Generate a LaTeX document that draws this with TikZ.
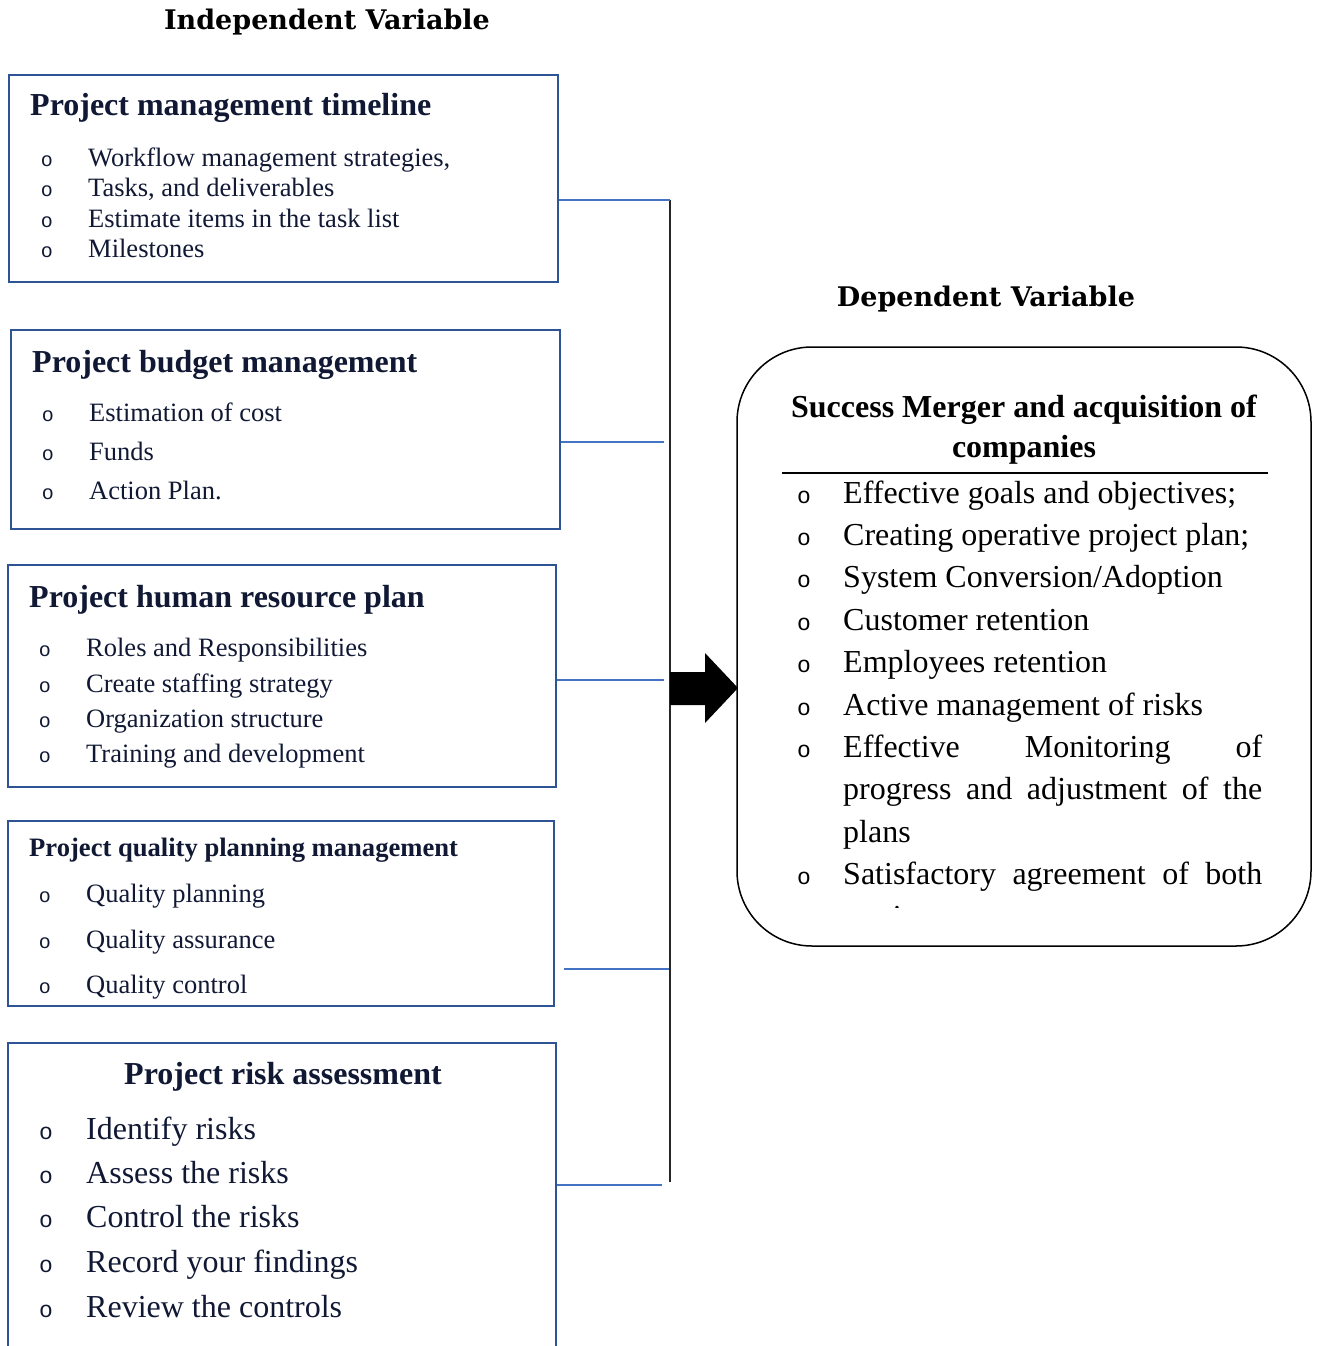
\documentclass[tikz,border=0pt]{standalone}
\usepackage{fontspec}
\setmainfont{Liberation Serif}
\newfontfamily\headfont{DejaVu Serif}
\newfontfamily\bulfont{Liberation Mono}
\definecolor{boxblue}{RGB}{47,84,150}
\definecolor{lineblue}{RGB}{68,114,196}
\definecolor{navy}{RGB}{16,24,52}
\newcommand{\fsz}[1]{\fontsize{#1}{#1}\selectfont}
\tikzset{
  boxnode/.style={draw=boxblue, line width=2pt, inner sep=0pt},
  conn/.style={draw=lineblue, line width=1.2pt},
  busline/.style={draw=black!85, line width=1.3pt},
  itemtext/.style={anchor=base west, inner sep=0pt, text=navy, font=\fsz{26.5}},
  bigitem/.style={anchor=base west, inner sep=0pt, text=navy, font=\fsz{32}},
  bul/.style={anchor=base, inner sep=0pt, text=navy, font=\bulfont\fsz{20}},
  bigbul/.style={anchor=base, inner sep=0pt, text=navy, font=\bulfont\fsz{23}},
  ttl/.style={anchor=base west, inner sep=0pt, text=navy, font=\bfseries\fsz{32}},
  heading/.style={anchor=base, inner sep=0pt, font=\headfont\bfseries\fsz{27}},
  ritem/.style={anchor=base west, inner sep=0pt, font=\fsz{32}},
  rbul/.style={anchor=base, inner sep=0pt, font=\bulfont\fsz{23}},
}
\begin{document}
\begin{tikzpicture}[x=1pt,y=-1pt]
\useasboundingbox (0,0) rectangle (1319,1346);
% headings
\node[heading] (hIndep) at (327,30) {Independent Variable};
\node[heading] (hDep) at (986,306) {Dependent Variable};
% boxes
\node[boxnode, minimum width=549, minimum height=207] (b1) at (283.5,178.5) {};
\node[boxnode, minimum width=549, minimum height=199] (b2) at (285.5,429.5) {};
\node[boxnode, minimum width=548, minimum height=222] (b3) at (282,676) {};
\node[boxnode, minimum width=546, minimum height=185] (b4) at (281,913.5) {};
\node[boxnode, minimum width=548, minimum height=323] (b5) at (282,1204.5) {};
% box 1
\node[ttl] (t1) at (30,115) {Project management timeline};
\foreach \yy/\tt [count=\i] in {166/{Workflow management strategies,},196/{Tasks, and deliverables},227/{Estimate items in the task list},257/{Milestones}}{
  \node[bul] (b1b\i) at (47,\yy) {o};
  \node[itemtext] (b1t\i) at (88,\yy) {\tt};
}
% box 2
\node[ttl] (t2) at (32,372) {Project budget management};
\foreach \yy/\tt [count=\i] in {421/{Estimation of cost},460/{Funds},499/{Action Plan.}}{
  \node[bul] (b2b\i) at (48,\yy) {o};
  \node[itemtext] (b2t\i) at (89,\yy) {\tt};
}
% box 3
\node[ttl] (t3) at (29,607) {Project human resource plan};
\foreach \yy/\tt [count=\i] in {656/{Roles and Responsibilities},692/{Create staffing strategy},727/{Organization structure},762/{Training and development}}{
  \node[bul] (b3b\i) at (45,\yy) {o};
  \node[itemtext] (b3t\i) at (86,\yy) {\tt};
}
% box 4
\node[ttl, font=\bfseries\fsz{26.6}] (t4) at (29,856) {Project quality planning management};
\foreach \yy/\tt [count=\i] in {902/{Quality planning},948/{Quality assurance},993/{Quality control}}{
  \node[bul] (b4b\i) at (45,\yy) {o};
  \node[itemtext] (b4t\i) at (86,\yy) {\tt};
}
% box 5
\node[ttl, anchor=base] (t5) at (283,1084) {Project risk assessment};
\foreach \yy/\tt [count=\i] in {1139/{Identify risks},1183/{Assess the risks},1227/{Control the risks},1272/{Record your findings},1317/{Review the controls}}{
  \node[bigbul] (b5b\i) at (46,\yy) {o};
  \node[bigitem] (b5t\i) at (86,\yy) {\tt};
}
% bus and connectors
\coordinate (busTop) at (670,200);
\coordinate (busBot) at (670,1182);
\draw[busline] (busTop) -- (busBot);
\coordinate (j1) at (670,200);
\coordinate (j2) at (664,442);
\coordinate (j3) at (664,680);
\coordinate (j4) at (669,969);
\coordinate (j5) at (662,1185);
\coordinate (s4) at (564,969);
\draw[conn] (b1.east |- j1) -- (j1);
\draw[conn] (b2.east |- j2) -- (j2);
\draw[conn] (b3.east |- j3) -- (j3);
\draw[conn] (s4) -- (j4);
\draw[conn] (b5.east |- j5) -- (j5);
% block arrow
\fill[black] (670,672) -- (705,672) -- (705,653) -- (738,688) -- (705,723) -- (705,705) -- (670,705) -- cycle;
% dependent box
\node[draw=black, line width=1.5pt, rounded corners=75pt, minimum width=574, minimum height=599, inner sep=0pt] (dep) at (1024,646.5) {};
\node[anchor=base, inner sep=0pt, font=\bfseries\fsz{32}] (d1) at (1024,417) {Success Merger and acquisition of};
\node[anchor=base, inner sep=0pt, font=\bfseries\fsz{32}] (d2) at (1024,457) {companies};
\coordinate (ruleL) at (782,473);
\coordinate (ruleR) at (1268,473);
\draw[line width=2pt] (ruleL) -- (ruleR);
\foreach \yy/\tt [count=\i] in {503/{Effective goals and objectives;},545.4/{Creating operative project plan;},587.8/{System Conversion/Adoption},630.2/{Customer retention},672.6/{Employees retention},715/{Active management of risks}}{
  \node[rbul] (db\i) at (804,\yy) {o};
  \node[ritem] (dt\i) at (843,\yy) {\tt};
}
\node[rbul] (db7) at (804,757.4) {o};
\node[ritem] (dt7) at (843,757.4) {\makebox[419pt][s]{Effective Monitoring of}};
\node[ritem] (dt8) at (843,799.8) {\makebox[419pt][s]{progress and adjustment of the}};
\node[ritem] (dt9) at (843,842.2) {plans};
\node[rbul] (db10) at (804,884.6) {o};
\node[ritem] (dt10) at (843,884.6) {\makebox[419pt][s]{Satisfactory agreement of both}};
\begin{scope}
\clip (840,895) rectangle (1000,907.5);
\node[ritem] (dt11) at (843,927) {parties.};
\end{scope}
\end{tikzpicture}
\end{document}
